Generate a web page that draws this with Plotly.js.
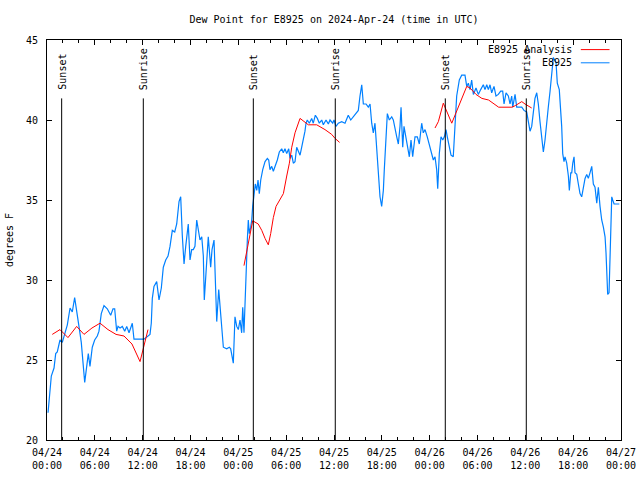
<!DOCTYPE html>
<html>
<head>
<meta charset="utf-8">
<script src="https://cdn.plot.ly/plotly-3.0.1.min.js"></script>
<style>html,body{margin:0;padding:0;background:#fff;}#chart{width:640px;height:480px;}</style>
</head>
<body>
<div id="chart"></div>
<script>
// Hours since 2024-04-24 00:00 UTC, observed dew point (E8925)
const obsHours = [0.13,0.25,0.54,0.88,1.09,1.29,1.63,1.92,2.22,2.55,2.89,3.17,3.47,3.64,4.01,4.30,4.55,4.73,4.93,5.18,5.39,5.68,5.98,6.31,6.52,6.81,7.15,7.56,7.99,8.28,8.49,8.74,8.91,9.16,9.45,9.75,10.00,10.29,10.70,10.91,11.33,12.17,12.92,13.08,13.21,13.42,13.76,14.05,14.34,14.59,14.89,15.18,15.43,15.72,16.02,16.27,16.56,16.77,16.97,17.19,17.40,17.60,17.72,17.94,18.15,18.35,18.56,18.78,18.98,19.19,19.41,19.61,19.73,19.94,20.23,20.53,20.70,20.95,21.20,21.29,21.54,21.79,22.04,22.12,22.54,22.87,23.04,23.37,23.58,23.80,24.00,24.21,24.42,24.55,24.71,24.84,24.96,25.13,25.25,25.38,25.55,25.68,25.80,25.97,26.13,26.31,26.47,26.63,26.81,27.06,27.35,27.64,27.81,27.97,28.19,28.39,28.64,28.89,29.14,29.44,29.64,29.85,30.07,30.32,30.48,30.70,30.90,31.11,31.32,31.52,31.74,31.95,32.15,32.36,32.49,32.65,32.90,33.20,33.40,33.66,33.91,34.16,34.46,34.66,35.00,35.29,35.50,35.84,36.00,36.25,36.54,36.97,37.38,37.79,38.10,38.42,38.76,39.05,39.26,39.48,39.68,40.02,40.30,40.52,40.73,40.93,41.14,41.36,41.56,41.77,41.98,42.19,42.31,42.52,42.69,42.94,43.24,43.44,43.65,43.87,44.07,44.28,44.41,44.62,44.78,45.03,45.25,45.45,45.66,45.87,46.16,46.45,46.70,47.00,47.20,47.42,47.70,47.95,48.26,48.46,48.67,48.88,49.01,49.21,49.42,49.64,49.84,50.05,50.21,50.46,50.68,50.96,51.18,51.39,51.72,52.02,52.43,52.65,52.85,53.06,53.27,53.48,53.81,54.10,54.40,54.73,54.94,55.16,55.36,55.57,55.78,56.07,56.32,56.61,56.91,57.16,57.33,57.58,57.87,58.08,58.29,58.42,58.71,58.92,59.25,59.55,59.83,60.17,60.38,60.59,60.80,61.00,61.21,61.43,61.63,61.84,62.06,62.26,62.47,62.68,62.88,63.10,63.31,63.51,63.85,64.01,64.26,64.44,64.56,64.69,64.85,64.98,65.19,65.40,65.52,65.70,65.82,65.95,66.11,66.23,66.45,66.65,66.86,67.07,67.27,67.49,67.70,67.90,68.11,68.33,68.53,68.74,68.96,69.16,69.37,69.58,69.79,70.00,70.12,70.21,70.33,70.50,70.62,70.75,70.84,70.96,71.13,71.79];
const obsDew = [21.7,22.3,24.0,24.5,25.4,25.5,26.25,26.1,26.6,27.2,28.25,28.0,28.9,28.25,27.1,26.1,24.9,23.6,24.4,25.4,24.6,25.8,26.25,26.5,26.8,27.9,28.4,28.2,27.8,28.2,28.2,26.8,27.1,27.0,27.1,26.8,27.1,26.7,27.3,26.3,26.3,26.3,26.6,27.3,28.85,29.6,29.9,28.75,29.5,30.8,31.25,31.5,32.1,33.1,33.0,33.5,34.9,35.2,32.8,31.0,32.1,33.2,33.5,31.25,31.9,31.9,32.1,33.75,33.1,32.5,32.7,31.5,28.75,30.4,32.7,30.8,31.9,32.5,28.75,27.4,29.4,27.7,26.45,25.8,25.7,25.8,25.7,24.8,27.7,27.1,26.9,27.5,26.7,28.3,26.7,29.0,30.8,32.5,33.75,32.9,33.3,33.75,34.6,35.4,36.0,35.6,36.25,35.4,36.25,36.9,37.4,37.6,37.5,36.9,37.1,36.8,37.1,37.5,38.0,38.2,37.95,38.2,37.9,38.2,37.6,37.8,37.3,37.4,38.3,38.0,37.8,38.3,38.75,39.3,39.8,40.0,39.8,40.1,39.8,40.3,40.1,39.8,40.0,39.7,40.0,39.75,40.0,39.8,40.0,39.6,39.8,39.9,39.8,40.3,40.0,40.2,40.4,40.6,41.5,42.2,41.0,41.0,40.8,41.0,39.8,39.2,39.8,38.1,36.7,35.2,34.6,35.6,36.9,38.95,40.4,40.0,40.2,40.0,39.4,38.95,38.5,39.6,40.8,38.3,39.6,38.95,38.3,37.7,38.75,37.7,38.95,38.95,38.5,39.8,39.2,39.4,38.95,38.5,37.9,37.5,37.7,36.9,35.7,37.9,38.95,38.75,38.95,39.4,38.95,38.3,37.8,37.7,40.0,41.5,42.5,42.8,42.8,42.1,42.3,41.9,42.5,41.6,42.0,41.6,41.9,42.2,41.9,42.2,41.9,42.2,41.7,42.1,41.5,41.6,41.8,41.8,41.0,41.7,41.5,41.0,41.5,40.8,41.6,40.8,40.8,40.8,40.6,40.5,39.9,39.3,39.6,40.4,41.35,41.7,41.0,39.9,38.95,38.0,38.75,40.0,40.8,41.8,42.7,43.9,43.6,42.3,41.9,40.6,39.6,37.9,37.4,37.7,37.3,36.5,35.6,36.7,36.7,37.3,37.7,36.7,36.6,36.0,35.4,35.2,35.8,36.35,36.6,36.35,36.7,37.1,36.0,35.8,34.8,35.8,34.6,33.75,33.3,32.7,31.7,30.0,29.1,29.2,32.1,33.75,35.2,35.0,34.75,34.75];

// Hours since 2024-04-24 00:00 UTC, analysis dew point (null = gap)
const anaHours = [0.66,1.63,2.63,3.72,4.64,5.64,6.65,7.65,8.66,9.66,10.66,11.67,12.67,18.0,24.71,25.05,25.55,25.80,26.50,26.94,27.35,27.76,28.06,28.39,28.73,29.23,29.65,30.07,30.40,30.70,31.11,31.74,32.78,33.83,34.87,35.71,36.13,36.70,42.0,48.67,49.09,49.71,50.77,52.65,53.06,53.81,54.55,55.39,56.02,56.65,57.07,58.32,58.75,59.55,59.96,60.25,60.80];
const anaDew = [26.6,26.9,26.4,27.1,26.6,27.0,27.3,26.9,26.6,26.5,26.0,24.9,26.9,null,30.9,31.8,33.1,33.7,33.5,33.1,32.6,32.2,32.9,33.9,34.6,35.0,35.4,36.5,37.3,38.3,39.2,40.1,39.7,39.7,39.4,39.1,38.85,38.6,null,39.5,39.9,41.05,39.8,42.1,42.0,41.6,41.35,41.25,41.0,40.8,40.8,40.8,40.9,41.15,41.0,40.9,40.75];

// Sun events (hours since 2024-04-24 00:00 UTC)
const sunHours = [1.84, 12.08, 25.88, 36.16, 49.96, 60.12];
const sunLabels = ['Sunset','Sunrise','Sunset','Sunrise','Sunset','Sunrise'];

const seriesNames = ['E8925 Analysis', 'E8925'];
const seriesColors = ['#ff0000', '#0080ff'];

const T0 = Date.UTC(2024, 3, 24, 0, 0, 0);
function toDate(h) {
  if (h === null) return null;
  return new Date(T0 + h * 3600e3).toISOString().replace('T', ' ').slice(0, 19);
}

const FONT = 'DejaVu Sans Mono, monospace';

const traces = [
  {
    x: obsHours.map(toDate), y: obsDew, type: 'scatter', mode: 'lines',
    name: seriesNames[1], line: {color: seriesColors[1], width: 1.2}, showlegend: false
  },
  {
    x: anaHours.map(toDate), y: anaDew, type: 'scatter', mode: 'lines',
    name: seriesNames[0], line: {color: seriesColors[0], width: 1}, connectgaps: false, showlegend: false
  }
];

const shapes = [];
const annotations = [];
sunHours.forEach((h, i) => {
  shapes.push({type: 'line', xref: 'x', yref: 'paper', x0: toDate(h), x1: toDate(h), y0: 0, y1: 0.854,
    line: {color: '#000', width: 1}});
  annotations.push({xref: 'x', yref: 'paper', x: toDate(h), y: 0.87, text: sunLabels[i],
    textangle: -90, showarrow: false, xanchor: 'center', yanchor: 'bottom',
    font: {family: FONT, size: 10, color: '#000'}});
});

// Legend (gnuplot style: text then line sample)
const legY = [0.976, 0.943];
[0, 1].forEach(i => {
  annotations.push({xref: 'paper', yref: 'paper', x: 0.918, y: legY[i], text: seriesNames[i],
    showarrow: false, xanchor: 'right', yanchor: 'middle', font: {family: FONT, size: 10, color: '#000'}});
  shapes.push({type: 'line', xref: 'paper', yref: 'paper', x0: 0.930, x1: 0.980, y0: legY[i], y1: legY[i],
    line: {color: seriesColors[i], width: 1}});
});

const layout = {
  width: 640, height: 480,
  margin: {l: 47, r: 19, t: 40, b: 40, pad: 0},
  paper_bgcolor: '#fff', plot_bgcolor: '#fff',
  font: {family: FONT, size: 10, color: '#000'},
  title: {text: 'Dew Point for E8925 on 2024-Apr-24 (time in UTC)', x: 0.5, xref: 'paper',
    y: 0.96, yref: 'container', yanchor: 'middle', font: {family: FONT, size: 10, color: '#000'}},
  xaxis: {
    type: 'date', range: ['2024-04-24 00:00:00', '2024-04-27 00:00:00'],
    tick0: '2024-04-24 00:00:00', dtick: 6 * 3600e3, tickformat: '%m/%d<br>%H:%M',
    ticks: 'inside', ticklen: 5, tickcolor: '#000', showline: true, linecolor: '#000', linewidth: 1,
    mirror: 'ticks', showgrid: false, zeroline: false, ticklabelstandoff: 3,
    minor: {dtick: 2 * 3600e3, tick0: '2024-04-24 00:00:00', ticks: 'inside', ticklen: 3, tickcolor: '#000', showgrid: false},
    tickfont: {family: FONT, size: 10, color: '#000'}, fixedrange: true
  },
  yaxis: {
    range: [20, 45], dtick: 5, ticks: 'inside', ticklen: 5, tickcolor: '#000',
    showline: true, linecolor: '#000', linewidth: 1, mirror: 'ticks', showgrid: false, zeroline: false,
    ticklabelstandoff: 6,
    title: {text: 'degrees F', standoff: 10, font: {family: FONT, size: 10, color: '#000'}},
    tickfont: {family: FONT, size: 10, color: '#000'}, automargin: false
  },
  shapes: shapes,
  annotations: annotations,
  showlegend: false
};

Plotly.newPlot('chart', traces, layout, {staticPlot: true});
</script>
</body>
</html>
